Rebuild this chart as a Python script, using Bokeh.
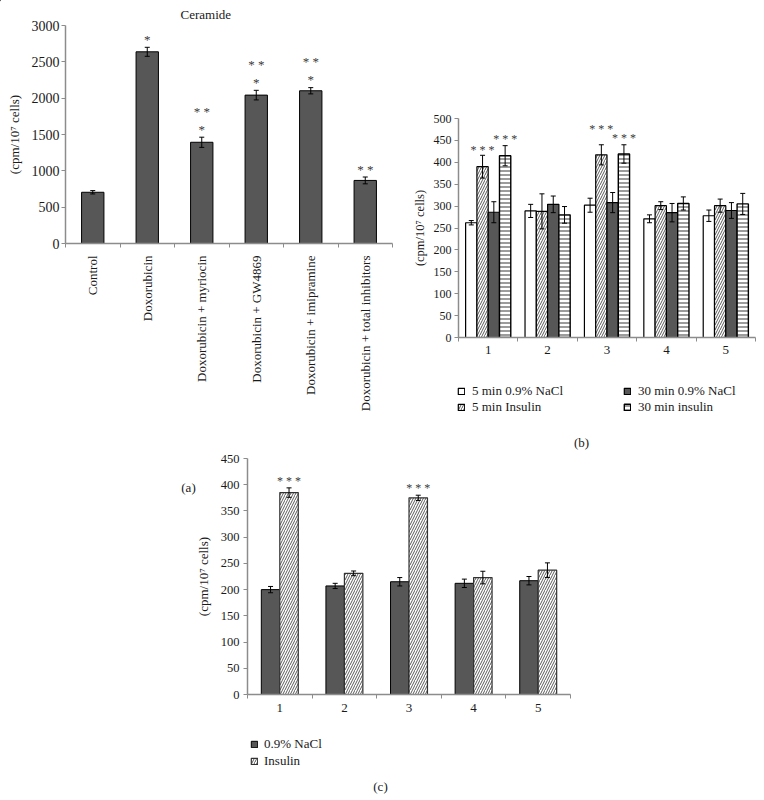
import math
from bokeh.plotting import figure
from bokeh.layouts import column
from bokeh.models import (Range1d, FixedTicker, SingleIntervalTicker, Whisker, ColumnDataSource,
                          TeeHead, Legend, LegendItem, Title, Label)
from bokeh.core.properties import value
from bokeh.embed import file_html
from bokeh.resources import INLINE

FONT = "Liberation Serif"
AX = "#8c8c8c"
DARK = "#575757"
TXT = "#1a1a1a"

# ---------------- data ----------------
# panel (a)
a_title = "Ceramide"
a_categories = ["Control", "Doxorubicin", "Doxorubicin + myriocin", "Doxorubicin + GW4869",
                "Doxorubicin + imipramine", "Doxorubicin + total inhibitors"]
a_values = [705, 2638, 1393, 2042, 2102, 868]
a_errors = [23, 62, 70, 66, 43, 47]
a_sig_line1 = ["", "*", "*", "*", "*", "* *"]
a_sig_line2 = ["", "", "* *", "* *", "* *", ""]

# panel (b)
b_groups = ["1", "2", "3", "4", "5"]
b_series = ["5 min 0.9% NaCl", "5 min Insulin", "30 min 0.9% NaCl", "30 min insulin"]
b_nacl5 = [262, 289, 302, 271, 278]
b_nacl5_err = [5, 15, 16, 9, 13]
b_ins5 = [390, 288, 417, 301, 301]
b_ins5_err = [26, 40, 23, 9, 15]
b_nacl30 = [286, 304, 308, 285, 290]
b_nacl30_err = [24, 19, 23, 21, 18]
b_ins30 = [415, 280, 419, 306, 305]
b_ins30_err = [23, 19, 21, 15, 24]
b_sig_ins5 = ["* * *", "", "* * *", "", ""]
b_sig_ins30 = ["* * *", "", "* * *", "", ""]

# panel (c)
c_groups = ["1", "2", "3", "4", "5"]
c_series = ["0.9% NaCl", "Insulin"]
c_nacl = [200, 207, 215, 212, 217]
c_nacl_err = [6, 5, 8, 8, 8]
c_ins = [385, 231, 375, 223, 237]
c_ins_err = [9, 4.5, 5, 12, 14]
c_sig_ins = ["* * *", "", "* * *", "", ""]

panel_letters = ["(a)", "(b)", "(c)"]
YLABEL = "(cpm/10\u2077 cells)"

# ---------------- styles ----------------
ST_WHITE = dict(fill_color="white", line_color="black", line_width=1.2)
ST_DIAG = dict(fill_color="white", line_color="black", line_width=1.2,
               hatch_pattern="right_diagonal_line", hatch_color="#5a5a5a",
               hatch_scale=5, hatch_weight=1)
ST_DARK = dict(fill_color=DARK, line_color="black", line_width=1.2)
ST_HORIZ = dict(fill_color="white", line_color="black", line_width=1.4,
                hatch_pattern="horizontal_line", hatch_color="#9c9c9c",
                hatch_scale=4, hatch_weight=2)
ST_C_DARK = dict(fill_color=DARK, line_color="black", line_width=1)
ST_C_DIAG = dict(ST_DIAG, line_color="#333333")


def style(p, tick_size, cat_size, label_size, ystand, lstand):
    p.xgrid.visible = False
    p.ygrid.visible = False
    p.outline_line_color = None
    p.background_fill_color = "white"
    p.border_fill_color = None
    p.frame_align = False
    for ax in (p.xaxis[0], p.yaxis[0]):
        ax.axis_line_color = AX
        ax.axis_line_width = 1.5
        ax.major_tick_line_color = AX
        ax.minor_tick_line_color = AX
        ax.major_tick_line_width = 1
        ax.minor_tick_line_width = 1
        ax.major_label_text_font = FONT
        ax.major_label_text_color = TXT
        ax.axis_label_text_font = FONT
        ax.axis_label_text_font_style = "normal"
        ax.axis_label_text_font_size = label_size
        ax.axis_label_text_color = TXT
    xa = p.xaxis[0]
    xa.major_tick_in = 0
    xa.major_tick_out = 0
    xa.minor_tick_in = 0
    xa.minor_tick_out = 4
    xa.major_label_text_font_size = cat_size
    ya = p.yaxis[0]
    ya.major_tick_in = 0
    ya.major_tick_out = 4
    ya.minor_tick_in = 0
    ya.minor_tick_out = 0
    ya.major_label_text_font_size = tick_size
    ya.major_label_standoff = ystand
    ya.axis_label_standoff = lstand
    ya.axis_label = YLABEL


def cat_axis(p, cats):
    n = len(cats)
    centers = [i + 1 for i in range(n)]
    bounds = [i + 0.5 for i in range(n + 1)]
    p.xaxis[0].ticker = FixedTicker(ticks=centers, minor_ticks=bounds)
    p.xaxis[0].major_label_overrides = {c: lab for c, lab in zip(centers, cats)}
    return centers


def errbars(p, xs, vals, errs, head=5):
    src = ColumnDataSource(dict(base=xs,
                                upper=[v + e for v, e in zip(vals, errs)],
                                lower=[v - e for v, e in zip(vals, errs)]))
    w = Whisker(source=src, base="base", upper="upper", lower="lower", dimension="height",
                line_color="black", line_width=1, level="annotation",
                upper_head=TeeHead(size=head, line_color="black", line_width=1),
                lower_head=TeeHead(size=head, line_color="black", line_width=1))
    p.add_layout(w)


def stars(p, xs, vals, errs, texts, up_px, size):
    src = ColumnDataSource(dict(x=xs, y=[v + e for v, e in zip(vals, errs)], t=texts))
    p.text(x="x", y="y", text="t", source=src, y_offset=-up_px,
           text_font=value(FONT), text_font_size=size, text_color="#3a3a3a",
           text_align="center", text_baseline="middle")


# ---------------- panel (a) ----------------
pa = figure(width=395, height=430, x_range=Range1d(0.5, 6.5), y_range=Range1d(0, 3000),
            output_backend="svg", toolbar_location=None,
            min_border_left=65, min_border_right=3, min_border_top=25, min_border_bottom=187)
style(pa, "14px", "13px", "13px", 2, 7)
xa_pos = cat_axis(pa, a_categories)
pa.xaxis[0].major_label_orientation = math.pi / 2
pa.xaxis[0].major_label_standoff = 8
pa.yaxis[0].ticker = SingleIntervalTicker(interval=500, num_minor_ticks=0)
pa.vbar(x=xa_pos, top=a_values, width=0.41, bottom=0, fill_color=DARK,
        line_color="black", line_width=1)
errbars(pa, xa_pos, a_values, a_errors, head=5)
stars(pa, xa_pos, a_values, a_errors, a_sig_line1, 8, "13px")
stars(pa, xa_pos, a_values, a_errors, a_sig_line2, 26, "13px")
pa.add_layout(Title(text=a_title, align="left", offset=115, standoff=7,
                    text_font=FONT, text_font_size="13px", text_font_style="normal",
                    text_color=TXT), "above")

# ---------------- panel (b) ----------------
pb = figure(width=369, height=370, x_range=Range1d(0.5, 5.5), y_range=Range1d(0, 500),
            output_backend="svg", toolbar_location=None, margin=(-430, 0, 0, 395),
            min_border_left=63, min_border_right=9, min_border_top=118, min_border_bottom=33)
style(pb, "12px", "13px", "12.5px", 3, 4)
xb = cat_axis(pb, b_groups)
pb.xaxis[0].major_label_standoff = 4
pb.yaxis[0].ticker = SingleIntervalTicker(interval=50, num_minor_ticks=0)
bw = 0.19
b_vals = [b_nacl5, b_ins5, b_nacl30, b_ins30]
b_errs = [b_nacl5_err, b_ins5_err, b_nacl30_err, b_ins30_err]
b_styles = [ST_WHITE, ST_DIAG, ST_DARK, ST_HORIZ]
b_xs = []
for k, (vals, errs, st) in enumerate(zip(b_vals, b_errs, b_styles)):
    xs = [c + (k - 1.5) * bw for c in xb]
    b_xs.append(xs)
    pb.vbar(x=xs, top=vals, width=bw, bottom=0, **st)
for k in range(4):
    errbars(pb, b_xs[k], b_vals[k], b_errs[k], head=5)
stars(pb, b_xs[1], b_ins5, b_ins5_err, [t if i != 2 else "" for i, t in enumerate(b_sig_ins5)], 5, "12px")
stars(pb, [b_xs[1][2]], [b_ins5[2]], [b_ins5_err[2]], [b_sig_ins5[2]], 16, "12px")
stars(pb, b_xs[3], b_ins30, b_ins30_err, b_sig_ins30, 7, "12px")

# ---------------- panel (c) ----------------
pc = figure(width=764, height=275, x_range=Range1d(0.5, 5.5), y_range=Range1d(0, 450),
            output_backend="svg", toolbar_location=None, margin=(80, 0, 0, 0),
            min_border_left=247, min_border_right=194, min_border_top=8, min_border_bottom=31)
style(pc, "12.5px", "13px", "13px", 4, 7)
xc = cat_axis(pc, c_groups)
pc.xaxis[0].major_label_standoff = 5
pc.yaxis[0].ticker = SingleIntervalTicker(interval=50, num_minor_ticks=0)
cw = 0.286
xc0 = [c - cw / 2 for c in xc]
xc1 = [c + cw / 2 for c in xc]
pc.vbar(x=xc0, top=c_nacl, width=cw, bottom=0, **ST_C_DARK)
pc.vbar(x=xc1, top=c_ins, width=cw, bottom=0, **ST_C_DIAG)
errbars(pc, xc0, c_nacl, c_nacl_err, head=5)
errbars(pc, xc1, c_ins, c_ins_err, head=5)
stars(pc, xc1, c_ins, c_ins_err, c_sig_ins, 7, "12px")

# ---------------- overlay: legends and panel letters (page pixel coordinates) ----------------
ov = figure(width=764, height=800, x_range=Range1d(0, 764), y_range=Range1d(800, 0),
            output_backend="svg", toolbar_location=None, margin=(-725, 0, 0, 0),
            x_axis_type=None, y_axis_type=None, min_border=0)
ov.frame_align = False
ov.xgrid.visible = False
ov.ygrid.visible = False
ov.outline_line_color = None
ov.background_fill_color = None
ov.border_fill_color = None


def swatch(st):
    # legend-only renderer: a single off-canvas placeholder so that the legend draws its key
    src = ColumnDataSource(dict(x=[-1000], top=[0]))
    return ov.vbar(x="x", top="top", width=1, source=src, **st)


sw_b = [swatch(st) for st in b_styles]
leg_b = Legend(items=[LegendItem(label=lab, renderers=[r]) for lab, r in zip(b_series, sw_b)],
               location=(457, 800 - 383 - 32), orientation="vertical", nrows=2,
               glyph_width=8, glyph_height=8, label_standoff=7, label_width=151,
               label_height=16, spacing=0, padding=0, margin=0,
               border_line_color=None, background_fill_alpha=0,
               label_text_font=FONT, label_text_font_size="13px", label_text_color=TXT)
ov.add_layout(leg_b)

sw_c = [swatch(st) for st in (ST_C_DARK, ST_C_DIAG)]
leg_c = Legend(items=[LegendItem(label=lab, renderers=[r]) for lab, r in zip(c_series, sw_c)],
               location=(250, 800 - 735 - 34), orientation="vertical",
               glyph_width=8, glyph_height=8, label_standoff=6,
               label_height=17, spacing=0, padding=0, margin=0,
               border_line_color=None, background_fill_alpha=0,
               label_text_font=FONT, label_text_font_size="13px", label_text_color=TXT)
ov.add_layout(leg_c)

for txt, (cx, cy) in zip(panel_letters, [(188, 487), (581, 442), (380, 786)]):
    ov.add_layout(Label(x=cx, y=cy, text=txt, text_font=FONT, text_font_size="13px",
                        text_align="center", text_baseline="middle", text_color=TXT))

layout = column(pa, pb, pc, ov)
open("out.html", "w").write(file_html(layout, INLINE))
